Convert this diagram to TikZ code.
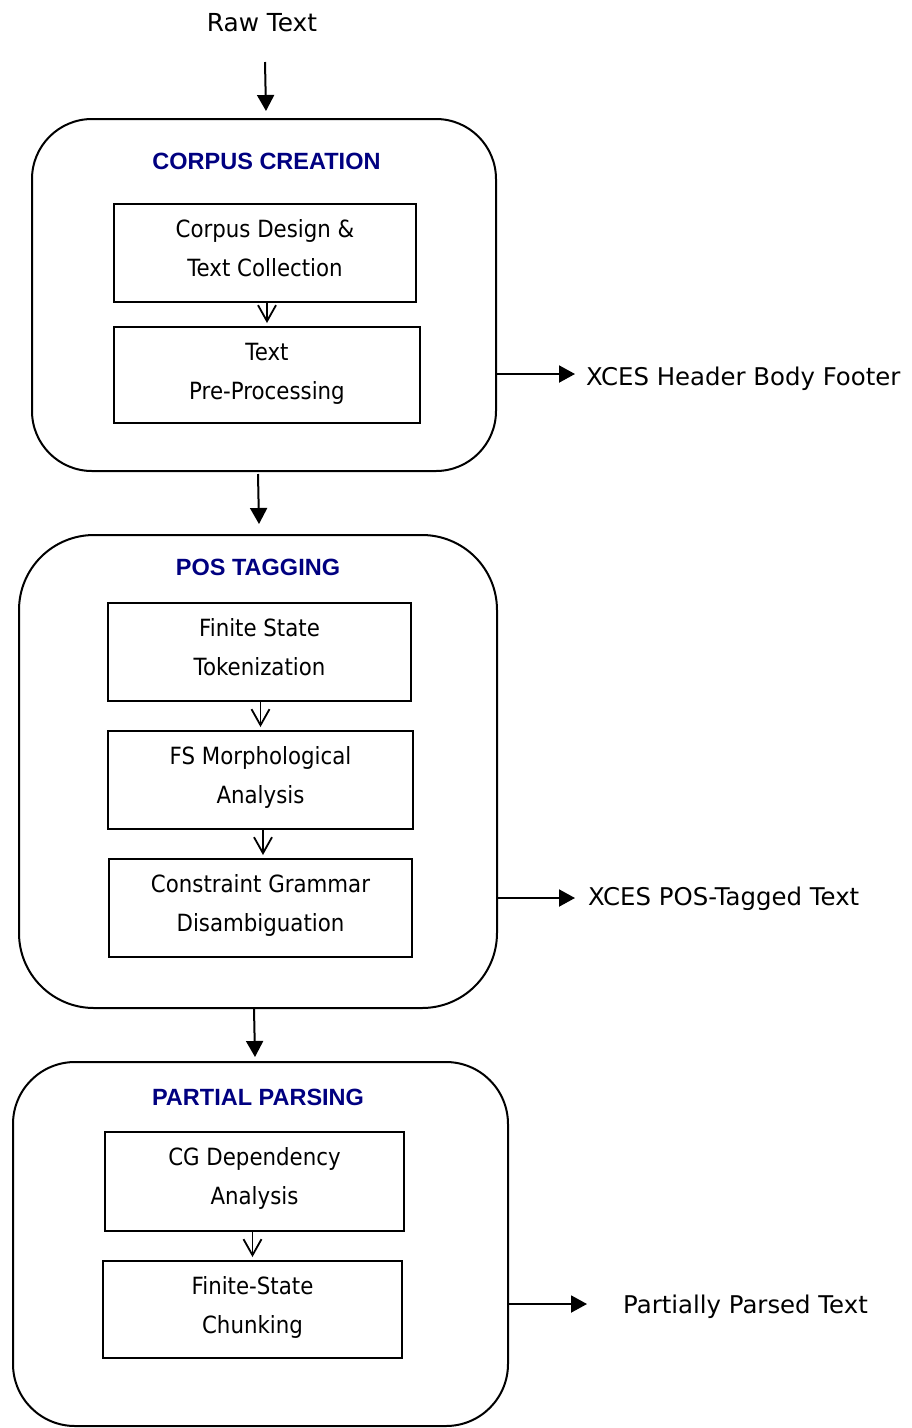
\documentclass[tikz,border=0pt]{standalone}
\usepackage{fontspec}
\setmainfont{DejaVu Sans}
\newfontfamily\boxfont[FakeStretch=0.9]{DejaVu Sans}
\newfontfamily\headfont{Liberation Sans}
\usetikzlibrary{arrows.meta}
\definecolor{headblue}{RGB}{0,0,128}

\begin{document}
\begin{tikzpicture}[x=1pt,y=-1pt,
  stage/.style={draw, rectangle, line width=2pt, inner sep=0pt},
  stepbox/.style={draw, rectangle, line width=2pt, inner sep=0pt},
  head/.style={font=\headfont\bfseries\fontsize{23.5}{28}\selectfont, text=headblue, anchor=base, inner sep=0pt},
  steptext/.style={font=\boxfont\fontsize{23.7}{28}\selectfont, anchor=base, inner sep=0pt},
  side/.style={font=\fontsize{24.4}{28}\selectfont, anchor=base west, inner sep=0pt},
  flow/.style={-{Triangle[length=16pt,width=17pt]}, line width=2pt},
  substep/.style={-{Straight Barb[length=16pt,width=18pt]}, line width=1.8pt},
]
\useasboundingbox (0,0) rectangle (912,1428);

% input
\node[font=\fontsize{24.8}{28}\selectfont, anchor=base, inner sep=0pt] (raw) at (262,31.5) {Raw Text};
\coordinate (raws) at (265,62);

% stage 1: corpus creation
\node[stage, rounded corners=60pt, minimum width=464pt, minimum height=352pt] (c1) at (264,295) {};
\node[head] (h1) at (266.5,169) {CORPUS CREATION};
\node[stepbox, minimum width=302pt, minimum height=98pt] (b1) at (265,253) {};
\node[steptext] (b1a) at (265,237) {Corpus Design \&};
\node[steptext] (b1b) at (265,276) {Text Collection};
\node[stepbox, minimum width=306pt, minimum height=96pt] (b2) at (267,375) {};
\node[steptext] (b2a) at (267,360) {Text};
\node[steptext] (b2b) at (267,399) {Pre-Processing};

% stage 2: POS tagging
\node[stage, rounded corners=75pt, minimum width=478pt, minimum height=473pt] (c2) at (258,771.5) {};
\node[head] (h2) at (258,575) {POS TAGGING};
\node[stepbox, minimum width=303pt, minimum height=98pt] (p1) at (259.5,652) {};
\node[steptext] (p1a) at (259.5,636) {Finite State};
\node[steptext] (p1b) at (259.5,675) {Tokenization};
\node[stepbox, minimum width=305pt, minimum height=98pt] (p2) at (260.5,780) {};
\node[steptext] (p2a) at (260.5,764) {FS Morphological};
\node[steptext] (p2b) at (260.5,803) {Analysis};
\node[stepbox, minimum width=303pt, minimum height=98pt] (p3) at (260.5,908) {};
\node[steptext] (p3a) at (260.5,892) {Constraint Grammar};
\node[steptext] (p3b) at (260.5,931) {Disambiguation};

% stage 3: partial parsing
\node[stage, rounded corners=62pt, minimum width=495pt, minimum height=364pt] (c3) at (260.5,1244) {};
\node[head] (h3) at (258,1105) {PARTIAL PARSING};
\node[stepbox, minimum width=299pt, minimum height=99pt] (q1) at (254.5,1181.5) {};
\node[steptext] (q1a) at (254.5,1165) {CG Dependency};
\node[steptext] (q1b) at (254.5,1204) {Analysis};
\node[stepbox, minimum width=299pt, minimum height=97pt] (q2) at (252.5,1309.5) {};
\node[steptext] (q2a) at (252.5,1294) {Finite-State};
\node[steptext] (q2b) at (252.5,1333) {Chunking};

% outputs
\node[side] (o1) at (586,385) {XCES Header Body Footer};
\node[side] (o2) at (588,905) {XCES POS-Tagged Text};
\node[side] (o3) at (623,1313) {Partially Parsed Text};
\coordinate (o1t) at (575,374);
\coordinate (o2t) at (575,898);
\coordinate (o3t) at (587,1304);

% main flow
\draw[flow] (raws) -- ([xshift=2pt,yshift=7pt]c1.north);
\draw[flow] ([xshift=-6pt,yshift=-2pt]c1.south) -- ([xshift=1pt,yshift=10pt]c2.north);
\draw[flow] ([xshift=-4pt]c2.south) -- ([xshift=-5.5pt,yshift=4pt]c3.north);

% steps inside each stage
\draw[substep] (b1.south -| b2.north) -- ([yshift=3pt]b2.north);
\draw[substep] (p1.south -| p2.north) -- ([yshift=3pt]p2.north);
\draw[substep] ([xshift=2.5pt]p2.south) -- ([xshift=2.5pt,yshift=3pt]p3.north);
\draw[substep] (q1.south -| q2.north) -- ([yshift=3pt]q2.north);

% stage outputs
\draw[flow] ([yshift=-79pt]c1.east) -- (o1t);
\draw[flow] ([yshift=-126.5pt]c2.east) -- (o2t);
\draw[flow] ([yshift=-60pt]c3.east) -- (o3t);
\end{tikzpicture}
\end{document}
